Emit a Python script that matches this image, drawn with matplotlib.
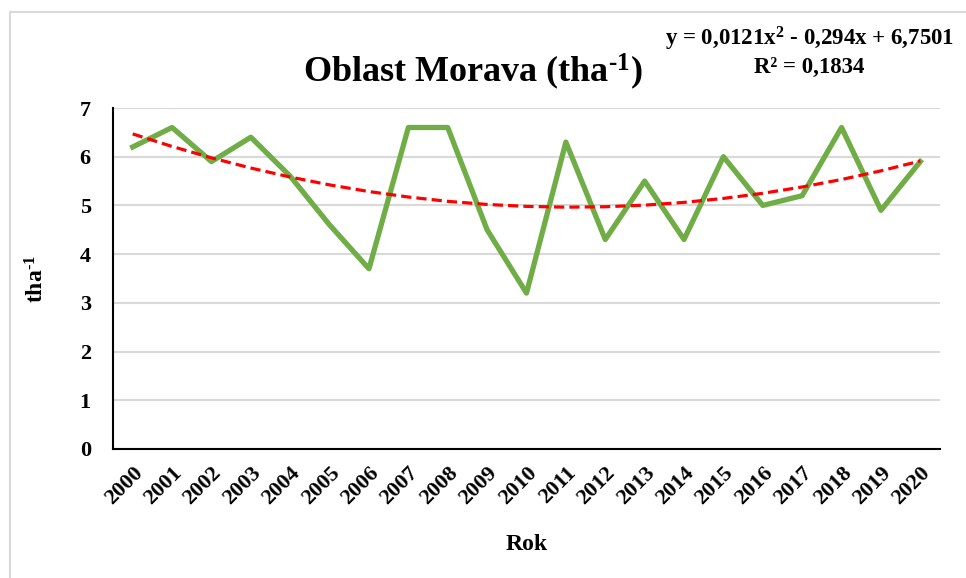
import numpy as np
from matplotlib import pyplot as plt
from matplotlib.patches import Rectangle

years = [str(y) for y in range(2000, 2021)]
yields = [6.2, 6.6, 5.9, 6.4, 5.6, 4.6, 3.7, 6.6, 6.6, 4.5, 3.2,
          6.3, 4.3, 5.5, 4.3, 6.0, 5.0, 5.2, 6.6, 4.9, 5.9]
# polynomial trend coefficients as printed on the chart (x = 1..21)
trend_coef = [0.0121, -0.294, 6.7501]
trend_r2 = "0,1834"

plt.rcParams['font.family'] = ['Liberation Serif', 'DejaVu Serif']
plt.rcParams['font.weight'] = 'bold'
plt.rcParams['mathtext.fontset'] = 'custom'
plt.rcParams['mathtext.rm'] = 'Liberation Serif:bold'
plt.rcParams['mathtext.bf'] = 'Liberation Serif:bold'
plt.rcParams['mathtext.default'] = 'rm'

fig = plt.figure(figsize=(9.66, 5.78), dpi=100)
fig.patches.append(Rectangle((10 / 966, -0.1), 1.2, (578 - 12) / 578 + 0.1,
                             transform=fig.transFigure, fill=False,
                             edgecolor='#d9d9d9', linewidth=1.5))

ax = fig.add_axes([113 / 966, 129 / 578, 827 / 966, 341 / 578])

x = np.arange(len(years))
ax.plot(x, yields, color='#70ad47', linewidth=3.8, solid_joinstyle='round', zorder=3)

tx = np.arange(1, len(years) + 1)
ax.plot(x, np.polyval(trend_coef, tx), color='red', linewidth=2.3,
        linestyle=(0, (3.2, 1.6)), zorder=4)

ax.set_xlim(-0.5, len(years) - 0.5)
ax.set_ylim(0, 7)
ax.set_yticks(range(0, 8))
ax.set_xticks(x)
ax.set_xticklabels(years, rotation=45, ha='right', va='top', rotation_mode='anchor')
ax.tick_params(axis='both', length=0, labelsize=16)
ax.tick_params(axis='y', pad=16)
ax.tick_params(axis='x', pad=10)
for lbl in ax.get_xticklabels() + ax.get_yticklabels():
    lbl.set_fontweight('bold')

ax.grid(axis='y', color='#d9d9d9', linewidth=1.5)
ax.set_axisbelow(True)
for side in ['top', 'right']:
    ax.spines[side].set_visible(False)
ax.spines['left'].set_linewidth(1.5)
ax.spines['bottom'].set_linewidth(1.5)

ax.set_xlabel('Rok', fontsize=17, fontweight='bold')
ax.xaxis.set_label_coords(0.5, -0.25)
ax.set_ylabel('tha$^{\\text{-1}}$', fontsize=17, fontweight='bold')
ax.yaxis.set_label_coords(-0.078, 0.5)

fig.text(0.49, 0.875, 'Oblast Morava (tha$^{\\text{-1}}$)', fontsize=26,
         fontweight='bold', ha='center', va='center')
fig.text(0.838, 0.932, 'y = 0,0121x$^{2}$ - 0,294x + 6,7501', fontsize=16.5,
         fontweight='bold', ha='center', va='center')
fig.text(0.838, 0.883, 'R² = ' + trend_r2, fontsize=16.5,
         fontweight='bold', ha='center', va='center')

fig.savefig('out.png', dpi=100)
